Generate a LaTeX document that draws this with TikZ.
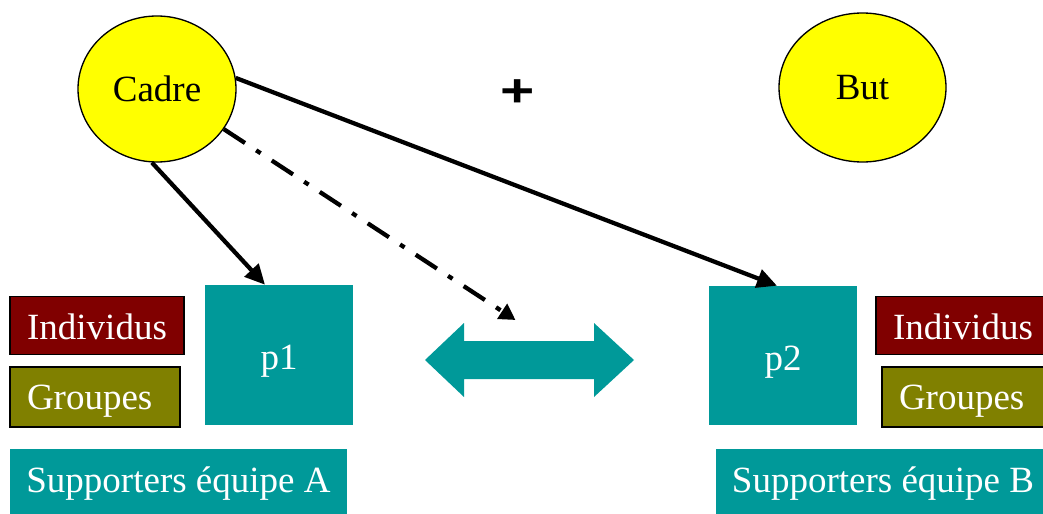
\documentclass[tikz,border=0pt]{standalone}
\usepackage{fontspec}
\setmainfont{Liberation Serif}
\newfontfamily\plusfont{Liberation Sans}
\usetikzlibrary{arrows.meta,calc,shapes.geometric}
\definecolor{cyel}{HTML}{FFFF00}
\definecolor{cteal}{HTML}{009999}
\definecolor{cred}{HTML}{800000}
\definecolor{colive}{HTML}{808000}
\newcommand{\lowr}[2]{\raisebox{-#1}[\height][\depth]{#2}}
\tikzset{
  bigtext/.style={font=\fontsize{27.75}{33}\selectfont},
  oval/.style={ellipse, draw=black, line width=1pt, fill=cyel, inner sep=0pt, bigtext},
  tealbox/.style={rectangle, fill=cteal, text=white, inner sep=0pt, bigtext},
  indbox/.style={rectangle, fill=cred, draw=black, line width=1.3pt, text=white, inner sep=0pt, bigtext, minimum width=130.5pt, minimum height=43.5pt},
  grpbox/.style={rectangle, fill=colive, draw=black, line width=1.3pt, text=white, inner ysep=0pt, inner xsep=12.75pt, text width=102pt, align=left, bigtext, minimum height=45pt},
  conn/.style={line width=3.2pt, -{Triangle[length=15pt,width=14pt]}},
  dashconn/.style={line width=3.2pt, dash pattern=on 19pt off 10pt on 4pt off 10pt, -{Triangle[length=12pt,width=13pt]}}
}
\begin{document}
\begin{tikzpicture}[x=0.75pt,y=-0.75pt]
\useasboundingbox (0,0) rectangle (1043,514);
\clip (0,0) rectangle (1043,514);
% ovals
\node[oval, minimum width=118.5pt, minimum height=109.5pt] (cadre) at (157,89) {Cadre};
\node[oval, minimum width=125.25pt, minimum height=111.75pt] (but) at (862.5,87.5) {But};
\node[font=\plusfont\bfseries\fontsize{44}{44}\selectfont, inner sep=0pt] (plus) at (518,93) {\scalebox{1}[0.78]{+}};
% left group
\node[indbox] (indA) at (97,325.5) {\lowr{1pt}{Individus}};
\node[grpbox] (grpA) at (95,397) {\lowr{3pt}{Groupes}};
\node[tealbox, minimum width=111pt, minimum height=105pt] (p1) at (279,355) {\lowr{5pt}{p1}};
\node[tealbox, minimum width=252.75pt, minimum height=48.75pt] (supA) at (178.5,481.5) {\lowr{1.5pt}{Supporters équipe A}};
% right group
\node[tealbox, minimum width=111pt, minimum height=104.25pt] (p2) at (783,355.5) {\lowr{5pt}{p2}};
\node[indbox] (indB) at (963,325.5) {\lowr{1pt}{Individus}};
\node[grpbox] (grpB) at (967,397) {\lowr{3pt}{Groupes}};
\node[tealbox, minimum width=250.5pt, minimum height=48.75pt] (supB) at (883,481.5) {\lowr{1.5pt}{Supporters équipe B}};
% double arrow
\coordinate (dbl) at (529.5,360);
\fill[cteal] (425,360) -- (464,323) -- (464,341) -- (594,341) -- (594,323) -- (634,360)
  -- (594,397) -- (594,379) -- (464,379) -- (464,397) -- cycle;
% connectors
\draw[conn] (cadre.266) -- ($(p1.north)+(-14,0)$);
\draw[conn] (cadre.8) -- ($(p2.north)+(-6,0)$);
\draw[dashconn] (cadre.-31) -- ($(dbl)+(-14,-40)$);
\end{tikzpicture}
\end{document}
